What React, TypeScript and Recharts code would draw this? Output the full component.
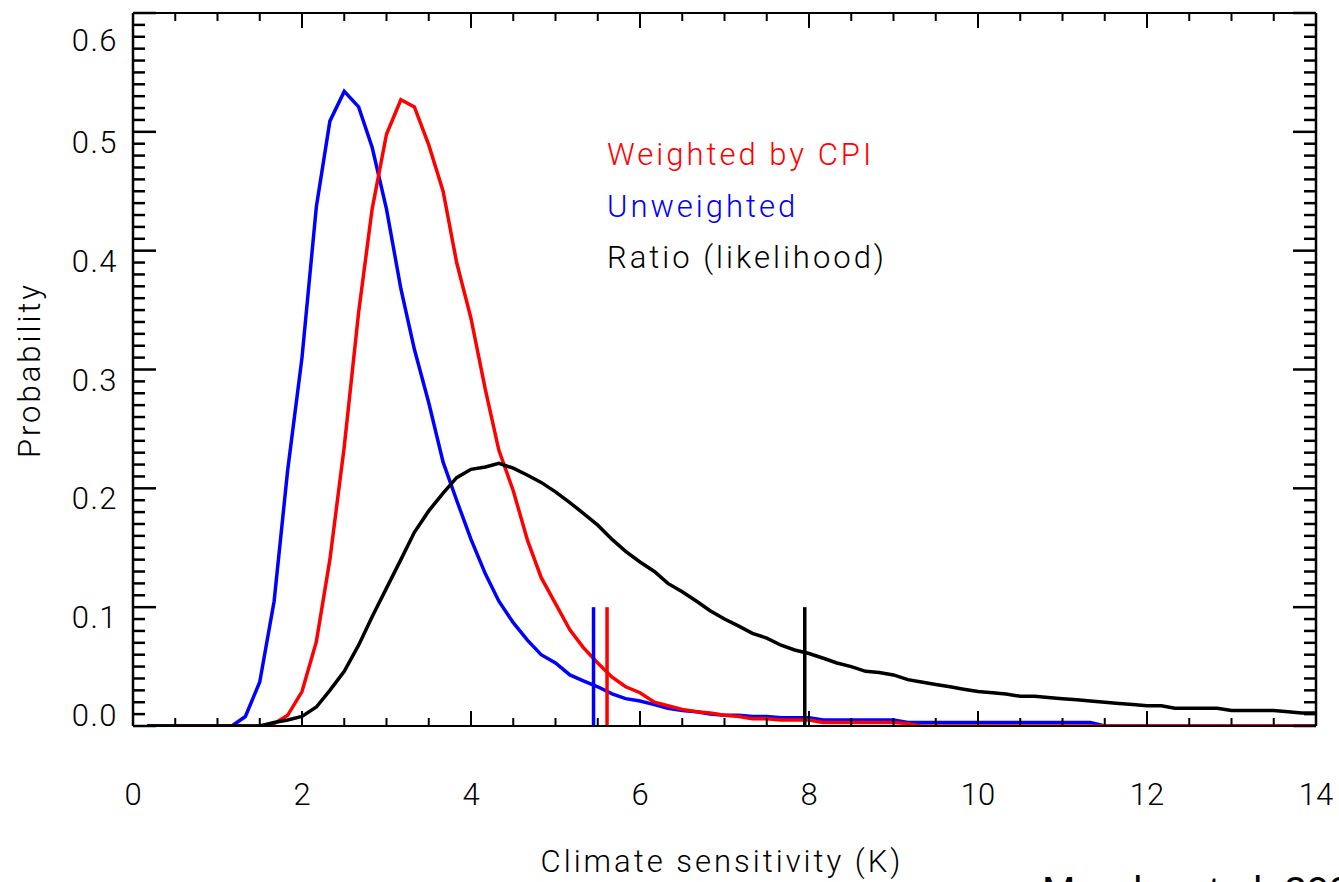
import { LineChart, Line, XAxis, YAxis, ReferenceLine } from "recharts";

// climate sensitivity grid (K)
const sensitivity = [
  0.17, 0.33, 0.5, 0.67, 0.83, 1, 1.17, 1.33, 1.5, 1.67, 1.83, 2,
  2.17, 2.33, 2.5, 2.67, 2.83, 3, 3.17, 3.33, 3.5, 3.67, 3.83, 4,
  4.17, 4.33, 4.5, 4.67, 4.83, 5, 5.17, 5.33, 5.5, 5.67, 5.83, 6,
  6.17, 6.33, 6.5, 6.67, 6.83, 7, 7.17, 7.33, 7.5, 7.67, 7.83, 8,
  8.17, 8.33, 8.5, 8.67, 8.83, 9, 9.17, 9.33, 9.5, 9.67, 9.83, 10,
  10.17, 10.33, 10.5, 10.67, 10.83, 11, 11.17, 11.33, 11.5, 11.67, 11.83, 12,
  12.17, 12.33, 12.5, 12.67, 12.83, 13, 13.17, 13.33, 13.5, 13.67, 13.83, 14,
];

const unweighted = [
  0, 0, 0, 0, 0, 0, 0, 0.008, 0.037, 0.105, 0.215, 0.31,
  0.437, 0.509, 0.534, 0.521, 0.487, 0.435, 0.368, 0.317, 0.272, 0.222, 0.19, 0.157,
  0.128, 0.105, 0.087, 0.072, 0.06, 0.053, 0.043, 0.038, 0.033, 0.027, 0.023, 0.021,
  0.018, 0.015, 0.013, 0.012, 0.01, 0.009, 0.009, 0.008, 0.008, 0.007, 0.007, 0.007,
  0.005, 0.005, 0.005, 0.005, 0.005, 0.005, 0.003, 0.003, 0.003, 0.003, 0.003, 0.003,
  0.003, 0.003, 0.003, 0.003, 0.003, 0.003, 0.003, 0.003, 0, 0, 0, 0,
  0, 0, 0, 0, 0, 0, 0, 0, 0, 0, 0, 0,
];

const weightedByCpi = [
  0, 0, 0, 0, 0, 0, 0, 0, 0, 0.002, 0.009, 0.029,
  0.071, 0.14, 0.235, 0.348, 0.435, 0.498, 0.527, 0.521, 0.489, 0.45, 0.39, 0.343,
  0.283, 0.232, 0.198, 0.156, 0.125, 0.103, 0.081, 0.066, 0.053, 0.041, 0.033, 0.028,
  0.02, 0.017, 0.014, 0.012, 0.011, 0.009, 0.008, 0.006, 0.006, 0.005, 0.005, 0.005,
  0.003, 0.003, 0.003, 0.003, 0.003, 0.003, 0.002, 0, 0, 0, 0, 0,
  0, 0, 0, 0, 0, 0, 0, 0, 0, 0, 0, 0,
  0, 0, 0, 0, 0, 0, 0, 0, 0, 0, 0, 0,
];

const likelihoodRatio = [
  0, 0, 0, 0, 0, 0, 0, 0, 0, 0.003, 0.005, 0.008,
  0.016, 0.03, 0.046, 0.068, 0.092, 0.116, 0.14, 0.163, 0.181, 0.196, 0.209, 0.216,
  0.218, 0.221, 0.217, 0.211, 0.205, 0.197, 0.188, 0.179, 0.169, 0.157, 0.147, 0.138,
  0.13, 0.12, 0.113, 0.105, 0.097, 0.09, 0.084, 0.078, 0.074, 0.068, 0.064, 0.061,
  0.057, 0.053, 0.05, 0.046, 0.045, 0.043, 0.039, 0.037, 0.035, 0.033, 0.031, 0.029,
  0.028, 0.027, 0.025, 0.025, 0.024, 0.023, 0.022, 0.021, 0.02, 0.019, 0.018, 0.017,
  0.017, 0.015, 0.015, 0.015, 0.015, 0.013, 0.013, 0.013, 0.013, 0.012, 0.011, 0.011,
];

// 95th percentile markers
const unweightedMark = 5.45;
const weightedMark = 5.61;
const ratioMark = 7.95;
const markHeight = 0.1;

const xTickLabels = [0, 2, 4, 6, 8, 10, 12, 14];
const yTickLabels = ["0.0", "0.1", "0.2", "0.3", "0.4", "0.5", "0.6"];

const xTicks = Array.from({ length: 29 }, (_, i) => i * 0.5);
const yTicks = Array.from({ length: 61 }, (_, i) => i / 100);

const rows = sensitivity.map((x, i) => ({
  x,
  unweighted: unweighted[i],
  weighted: weightedByCpi[i],
  ratio: likelihoodRatio[i],
}));

const FONT = "Roboto, 'DejaVu Sans', sans-serif";
const RED = "#ff0000";
const BLUE = "#0000ff";

const isMajorX = (v: number) => xTickLabels.some((t) => Math.abs(t - v) < 1e-6);
const majorYIndex = (v: number) => {
  const k = Math.round(v * 10);
  return Math.abs(v * 10 - k) < 1e-6 ? k : -1;
};

function BottomTick({ x, y, payload }: any) {
  const major = isMajorX(payload.value);
  return (
    <g>
      <line x1={x} x2={x} y1={y} y2={y - (major ? 15 : 8)} stroke="#000" strokeWidth={2} />
      {major && (
        <text x={x} y={y + 79} textAnchor="middle" fontFamily={FONT} fontWeight={300} fontSize={31} fill="#000">
          {payload.value}
        </text>
      )}
    </g>
  );
}

function TopTick({ x, y, payload }: any) {
  const major = isMajorX(payload.value);
  return <line x1={x} x2={x} y1={y} y2={y + (major ? 15 : 8)} stroke="#000" strokeWidth={2} />;
}

function LeftTick({ x, y, payload }: any) {
  const k = majorYIndex(payload.value);
  const dy = k === 0 ? 0 : k === 6 ? 38 : 21;
  return (
    <g>
      <line x1={x} x2={x + (k >= 0 ? 23 : 12)} y1={y} y2={y} stroke="#000" strokeWidth={2.5} />
      {k >= 0 && (
        <text x={x - 15} y={y + dy} textAnchor="end" fontFamily={FONT} fontWeight={300} fontSize={31} fill="#000" letterSpacing={1.5}>
          {yTickLabels[k]}
        </text>
      )}
    </g>
  );
}

function RightTick({ x, y, payload }: any) {
  const k = majorYIndex(payload.value);
  return <line x1={x} x2={x - (k >= 0 ? 23 : 12)} y1={y} y2={y} stroke="#000" strokeWidth={2.5} />;
}

const textStyle = { fontFamily: FONT, fontWeight: 300, fontSize: 31, letterSpacing: 3 };

export default function App() {
  return (
    <div style={{ position: "absolute", left: 0, top: 0, width: 1339, height: 882, background: "#fff" }}>
      <LineChart
        width={1339}
        height={882}
        data={rows}
        margin={{ top: 12, right: 22, bottom: 155, left: 132 }}
      >
        <XAxis
          xAxisId="bottom"
          dataKey="x"
          type="number"
          domain={[0, 14]}
          ticks={xTicks}
          interval={0}
          height={1}
          tickSize={0}
          tickMargin={0}
          allowDataOverflow
          axisLine={{ stroke: "#000", strokeWidth: 2 }}
          tick={BottomTick}
        />
        <XAxis
          xAxisId="top"
          orientation="top"
          dataKey="x"
          type="number"
          domain={[0, 14]}
          ticks={xTicks}
          interval={0}
          height={1}
          tickSize={0}
          tickMargin={0}
          allowDataOverflow
          axisLine={{ stroke: "#000", strokeWidth: 2 }}
          tick={TopTick}
        />
        <YAxis
          yAxisId="left"
          type="number"
          domain={[0, 0.6]}
          ticks={yTicks}
          interval={0}
          width={1}
          tickSize={0}
          tickMargin={0}
          allowDataOverflow
          axisLine={{ stroke: "#000", strokeWidth: 2.5 }}
          tick={LeftTick}
        />
        <YAxis
          yAxisId="right"
          orientation="right"
          type="number"
          domain={[0, 0.6]}
          ticks={yTicks}
          interval={0}
          width={1}
          tickSize={0}
          tickMargin={0}
          allowDataOverflow
          axisLine={{ stroke: "#000", strokeWidth: 2.5 }}
          tick={RightTick}
        />
        <Line xAxisId="bottom" yAxisId="left" type="linear" dataKey="unweighted" stroke={BLUE} strokeWidth={3.5} dot={false} isAnimationActive={false} />
        <Line xAxisId="bottom" yAxisId="left" type="linear" dataKey="weighted" stroke={RED} strokeWidth={3.5} dot={false} isAnimationActive={false} />
        <Line xAxisId="bottom" yAxisId="left" type="linear" dataKey="ratio" stroke="#000" strokeWidth={3.5} dot={false} isAnimationActive={false} />
        <ReferenceLine xAxisId="bottom" yAxisId="left" segment={[{ x: unweightedMark, y: 0 }, { x: unweightedMark, y: markHeight }]} stroke={BLUE} strokeWidth={3.5} />
        <ReferenceLine xAxisId="bottom" yAxisId="left" segment={[{ x: weightedMark, y: 0 }, { x: weightedMark, y: markHeight }]} stroke={RED} strokeWidth={3.5} />
        <ReferenceLine xAxisId="bottom" yAxisId="left" segment={[{ x: ratioMark, y: 0 }, { x: ratioMark, y: markHeight }]} stroke="#000" strokeWidth={3.5} />
      </LineChart>
      <svg width={1339} height={882} style={{ position: "absolute", left: 0, top: 0, pointerEvents: "none" }}>
        <text x={607} y={165} fill={RED} {...textStyle}>Weighted by CPI</text>
        <text x={607} y={217} fill={BLUE} {...textStyle}>Unweighted</text>
        <text x={607} y={268} fill="#000" {...textStyle}>Ratio (likelihood)</text>
        <text x={722} y={872} textAnchor="middle" fill="#000" {...textStyle}>Climate sensitivity (K)</text>
        <text x={40} y={370} textAnchor="middle" fill="#000" transform="rotate(-90 40 370)" {...textStyle}>Probability</text>
        <text x={1042} y={905} fill="#000" fontFamily="'Liberation Sans', Arial, sans-serif" fontSize={40}>Murphy et al. 2004</text>
      </svg>
    </div>
  );
}
